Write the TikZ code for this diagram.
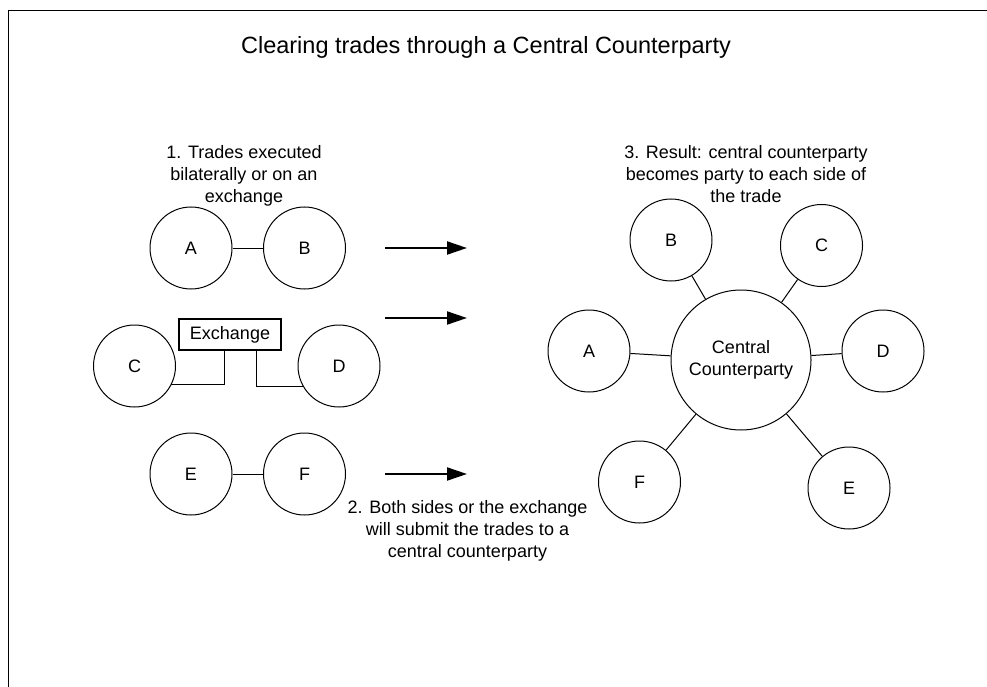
\documentclass[tikz,border=0pt]{standalone}
\usepackage{fontspec}
\setmainfont{Liberation Sans}
\usetikzlibrary{arrows.meta,calc}
\begin{document}
\begin{tikzpicture}[x=1pt,y=-1pt,
  party/.style={circle,draw,line width=1pt,minimum size=82pt,inner sep=0pt,font=\fontsize{18}{22}\selectfont},
  ccpnode/.style={party,minimum size=140pt,align=center},
  lbl/.style={align=center,font=\fontsize{18}{22}\selectfont,inner sep=0pt},
  link/.style={line width=1pt},
  bigarrow/.style={line width=2pt,-{Triangle[length=20pt,width=13pt]}},
  exbox/.style={draw,line width=2pt,minimum width=102pt,minimum height=31pt,inner sep=0pt,font=\fontsize{18}{22}\selectfont},
  frameline/.style={line width=1.5pt}]
\useasboundingbox (0,0) rectangle (987,687);
% frame
\coordinate (fb) at (8.5,687);
\coordinate (fc) at (8.5,10.5);
\coordinate (fr) at (987,10.5);
\draw[frameline] (fb) -- (fc) -- (fr);
% title
\node[anchor=base,inner sep=0pt,font=\fontsize{23.5}{28}\selectfont] (title) at (486,53.3) {Clearing trades through a Central Counterparty};
% labels
\node[lbl] (l1) at (244,175.4) {1. Trades executed\\bilaterally or on an\\exchange};
\node[lbl] (l2) at (467.5,531) {2. Both sides or the exchange\\will submit the trades to a\\central counterparty};
\node[lbl] (l3) at (746,174) {3. Result: central counterparty\\becomes party to each side of\\the trade};
% left side
\node[party] (A) at (191,248) {A};
\node[party] (B) at (304.5,248) {B};
\node[party] (C) at (134.5,366) {C};
\node[party] (D) at (339,366) {D};
\node[party] (E) at (191,474) {E};
\node[party] (F) at (304.5,474) {F};
\node[exbox] (ex) at (230,334.5) {Exchange};
\draw[link] (A) -- (B);
\draw[link] (E) -- (F);
\draw[link] (C.-27) -| ($(ex.south)+(-6,0)$);
\draw[link] ($(ex.south)+(26,0)$) |- (D.-150);
% arrows
\coordinate (a1s) at (385,248); \coordinate (a1e) at (467,248);
\coordinate (a2s) at (385,318); \coordinate (a2e) at (467,318);
\coordinate (a3s) at (385,474); \coordinate (a3e) at (467,474);
\draw[bigarrow] (a1s) -- (a1e);
\draw[bigarrow] (a2s) -- (a2e);
\draw[bigarrow] (a3s) -- (a3e);
% right side
\node[ccpnode] (ccp) at (741,360) {Central\\Counterparty};
\node[party] (rA) at (589,351) {A};
\node[party] (rB) at (671,240) {B};
\node[party] (rC) at (821.5,245.5) {C};
\node[party] (rD) at (883,351) {D};
\node[party] (rE) at (849,488) {E};
\node[party] (rF) at (639.5,482) {F};
\foreach \p in {rA,rB,rC,rD,rE,rF} \draw[link] (ccp) -- (\p);
\end{tikzpicture}
\end{document}
